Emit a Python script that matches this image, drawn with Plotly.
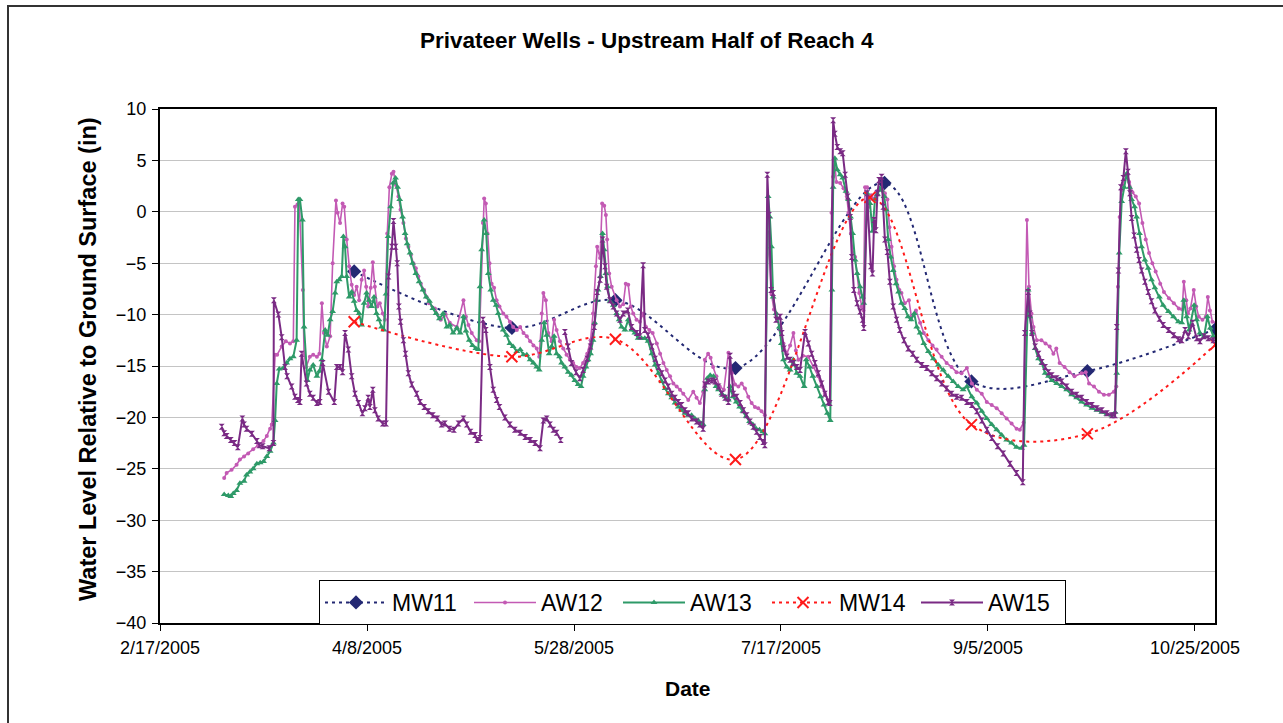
import numpy as np
import pandas as pd
import plotly.graph_objects as go

# ---------------- data (day = day of year 2005, Jan 1 = 1) ----------------
YEAR_START = "2005-01-01"

MW11_DAY = [94.9, 133.0, 158.0, 187.0, 223.0, 244.0, 272.0, 303.0]
MW11_VAL = [-5.8, -11.3, -8.6, -15.2, 2.8, -16.5, -15.5, -11.4]

MW14_DAY = [94.9, 133.0, 158.0, 187.0, 219.5, 244.0, 272.0, 303.0]
MW14_VAL = [-10.7, -14.1, -12.4, -24.1, 1.4, -20.7, -21.6, -12.9]

AW12 = [
    (63.5, -25.9), (64.1, -25.4), (65.3, -25.1), (66.5, -24.6), (67.3, -24.1), (68.3, -23.8),
    (69.3, -23.5), (70.5, -23.1), (71.7, -22.7), (73.0, -22.3), (73.8, -21.8), (74.6, -21.1),
    (75.0, -20.7), (75.8, -13.9), (76.3, -13.9), (77.4, -13.1), (78.4, -12.6), (79.4, -12.8),
    (80.2, -12.6), (80.6, 0.5), (81.2, 0.7), (81.6, 1.2), (82.5, -7.6), (82.8, -13.8),
    (83.3, -15.1), (84.2, -14.1), (85.0, -13.9), (85.9, -14.1), (86.5, -13.8), (87.1, -8.9),
    (87.6, -11.8), (88.3, -13.1), (89.1, -12.1), (89.7, -5.0), (90.5, 1.1), (90.9, -0.1),
    (91.5, -1.1), (92.1, 0.8), (92.5, 0.5), (93.1, -2.7), (93.7, -5.3), (94.3, -7.1),
    (94.9, -8.1), (95.5, -7.3), (96.1, -8.6), (96.7, -6.6), (97.3, -5.7), (97.8, -7.3),
    (98.3, -9.2), (98.9, -7.4), (99.4, -4.9), (99.9, -7.3), (100.5, -9.2), (101.1, -8.9),
    (101.8, -9.9), (102.3, -10.5), (102.9, -2.1), (103.4, 2.4), (104.0, 3.7), (104.4, 3.9),
    (105.0, 2.6), (105.6, 1.5), (106.1, 0.2), (106.8, -1.1), (107.4, -2.6), (108.0, -3.4),
    (108.6, -4.2), (109.2, -5.0), (109.8, -5.5), (110.4, -6.3), (111.0, -7.0), (111.8, -7.6),
    (112.4, -8.3), (113.0, -8.9), (114.4, -9.4), (115.8, -10.5), (117.0, -10.0), (118.0, -10.8),
    (119.7, -11.2), (121.3, -8.6), (121.9, -10.2), (122.5, -11.0), (123.3, -11.8), (124.5, -12.5),
    (125.1, -12.6), (126.0, -1.1), (126.3, 1.3), (126.7, 0.8), (127.1, -2.1), (127.6, -5.0),
    (128.1, -7.0), (128.7, -7.4), (129.3, -8.6), (130.0, -9.2), (130.9, -9.9), (131.7, -10.2),
    (132.5, -10.7), (133.3, -11.2), (134.2, -11.5), (135.0, -11.2), (135.8, -11.8), (136.6, -12.1),
    (137.4, -12.6), (138.2, -13.0), (139.0, -13.3), (139.6, -14.1), (140.2, -9.9), (140.6, -7.9),
    (141.2, -8.6), (141.8, -11.8), (142.6, -12.6), (143.2, -10.5), (143.8, -11.5), (144.6, -12.6),
    (145.4, -13.3), (146.2, -13.9), (147.0, -14.4), (147.8, -14.7), (148.6, -15.1), (149.4, -15.2),
    (150.2, -14.7), (151.2, -13.8), (152.0, -12.5), (152.6, -9.9), (153.3, -5.3), (153.6, -3.4),
    (154.3, -4.5), (154.8, 0.8), (155.3, 0.6), (155.7, -0.3), (156.0, -2.7), (156.5, -6.0),
    (157.1, -7.3), (158.3, -8.6), (159.1, -9.2), (159.9, -9.0), (160.5, -7.0), (161.1, -7.1),
    (161.7, -9.2), (162.3, -9.9), (163.1, -10.5), (163.9, -10.7), (164.7, -9.9), (165.4, -11.2),
    (166.2, -11.5), (167.0, -11.8), (168.0, -12.8), (168.8, -13.8), (169.6, -14.7), (170.4, -15.4),
    (171.2, -16.0), (172.0, -16.7), (172.8, -17.0), (173.6, -17.3), (174.4, -17.7), (175.6, -18.3),
    (176.8, -17.5), (177.6, -18.1), (178.4, -18.6), (179.2, -17.5), (179.6, -14.4), (180.4, -13.8),
    (181.0, -14.2), (181.6, -15.1), (182.4, -16.0), (183.2, -17.0), (184.2, -17.3), (185.3, -13.7),
    (186.1, -15.7), (186.9, -16.8), (187.7, -17.0), (188.5, -16.7), (189.3, -17.2), (190.1, -18.0),
    (190.9, -18.6), (191.7, -19.0), (192.5, -19.1), (193.3, -19.4), (194.1, -19.8), (194.9, -2.0),
    (195.7, -8.0), (196.3, -9.5), (196.9, -9.9), (197.8, -11.5), (198.6, -12.8), (199.4, -13.8),
    (200.2, -13.0), (201.0, -11.8), (201.6, -13.5), (202.2, -14.4), (203.3, -14.0), (204.6, -14.1),
    (205.8, -15.1), (207.0, -16.0), (207.8, -17.0), (208.6, -17.7), (209.4, -18.3), (209.8, -18.5),
    (210.2, -0.1), (210.6, 3.4), (210.9, 5.0), (211.4, 2.9), (212.3, 2.8), (213.1, 2.3),
    (213.9, 1.5), (214.3, -0.1), (214.9, -2.1), (215.4, -4.0), (215.9, -4.4), (216.4, -6.0),
    (216.9, -7.9), (217.5, -9.2), (217.9, -9.6), (218.3, 2.4), (218.8, 2.4), (219.3, 0.5),
    (219.8, 1.6), (220.3, 1.2), (221.1, 2.0), (221.9, 2.3), (222.5, 2.1), (223.1, 1.8),
    (223.7, 1.2), (224.2, -1.5), (224.7, -3.4), (225.3, -5.3), (225.9, -6.6), (226.6, -7.6),
    (227.1, -7.9), (227.9, -8.9), (228.9, -8.6), (229.5, -10.2), (230.6, -9.6), (231.6, -10.8),
    (232.5, -11.8), (233.6, -12.5), (234.6, -13.0), (235.6, -13.4), (236.8, -14.1), (238.0, -14.7),
    (239.2, -15.1), (240.4, -15.6), (241.6, -15.7), (242.9, -15.2), (244.1, -16.7), (245.3, -17.3),
    (246.5, -17.7), (247.7, -18.5), (248.9, -18.8), (250.1, -19.1), (251.3, -19.6), (252.5, -20.1),
    (253.7, -20.6), (254.9, -21.1), (255.7, -21.2), (256.6, -20.5), (257.4, -0.8), (257.9, -7.3),
    (258.5, -9.9), (259.0, -11.2), (259.8, -12.5), (260.9, -12.5), (261.9, -12.8), (262.9, -13.1),
    (263.8, -13.8), (264.5, -13.3), (265.3, -14.7), (266.5, -15.1), (267.7, -15.6), (268.9, -16.0),
    (270.6, -15.7), (271.6, -15.6), (272.4, -16.7), (273.6, -17.0), (274.8, -17.5), (276.0, -17.8),
    (277.2, -17.8), (278.4, -17.5), (279.0, -17.0), (279.4, -7.3), (279.8, -0.5), (280.3, 2.1),
    (280.9, 3.1), (281.6, 3.7), (282.1, 2.9), (282.9, 1.9), (283.7, 1.5), (284.5, 0.8),
    (285.3, -1.1), (286.1, -2.7), (286.9, -4.0), (287.7, -5.0), (288.5, -5.8), (289.6, -7.0),
    (290.5, -7.8), (291.7, -8.4), (292.9, -8.9), (294.1, -9.4), (294.9, -9.5), (295.3, -6.8),
    (295.9, -8.6), (296.3, -9.9), (296.9, -9.4), (297.7, -7.6), (298.3, -9.2), (298.9, -10.2),
    (299.8, -10.5), (300.6, -10.2), (301.1, -8.3), (301.6, -9.6), (302.2, -10.7), (303.4, -10.8),
    (304.6, -11.0),
]

AW13 = [
    (63.5, -27.5), (64.5, -27.6), (65.1, -27.7), (65.7, -27.4), (66.5, -27.1), (67.3, -26.4),
    (68.3, -26.2), (68.9, -25.6), (69.7, -25.3), (70.5, -25.0), (71.4, -24.5), (72.2, -24.4),
    (73.0, -24.3), (73.8, -23.8), (74.6, -23.3), (75.4, -22.5), (75.8, -20.3), (76.2, -16.7),
    (76.8, -15.3), (77.8, -15.2), (78.6, -14.7), (79.4, -14.3), (80.2, -14.1), (81.0, -12.5),
    (81.4, 1.2), (81.8, 1.2), (82.4, -0.8), (82.8, -11.2), (83.6, -16.4), (84.2, -15.4),
    (85.0, -14.9), (85.9, -16.0), (86.5, -15.5), (87.1, -14.4), (87.9, -11.5), (88.5, -12.0),
    (89.1, -10.5), (89.7, -9.7), (90.3, -7.9), (90.7, -6.8), (91.3, -6.6), (91.9, -6.3),
    (92.3, -2.4), (92.7, -3.4), (93.1, -6.3), (93.7, -8.3), (94.3, -7.8), (94.9, -8.7),
    (95.5, -9.6), (96.1, -9.9), (96.7, -11.0), (97.3, -8.9), (97.9, -7.9), (98.5, -8.6),
    (99.1, -9.2), (99.7, -8.3), (100.3, -9.9), (100.9, -10.5), (101.5, -11.2), (102.1, -11.5),
    (102.6, -8.0), (103.1, -2.4), (103.7, 0.5), (104.3, 2.8), (104.9, 3.3), (105.4, 2.4),
    (105.9, 1.2), (106.6, -0.5), (107.2, -2.1), (107.7, -3.1), (108.4, -4.0), (109.0, -5.0),
    (109.8, -6.0), (110.6, -6.8), (111.5, -7.6), (112.3, -8.3), (113.1, -8.7), (113.9, -9.4),
    (114.7, -9.9), (115.5, -10.4), (116.4, -9.9), (117.3, -11.2), (118.0, -11.0), (118.8, -11.8),
    (119.7, -11.3), (120.5, -11.8), (121.3, -10.2), (121.9, -11.6), (122.7, -12.5), (123.5, -13.0),
    (124.3, -13.3), (124.9, -13.4), (125.3, -7.3), (125.7, -3.7), (126.3, -0.8), (126.8, -2.1),
    (127.3, -6.0), (127.9, -7.6), (128.5, -8.6), (129.2, -9.1), (129.7, -9.9), (130.9, -11.5),
    (131.7, -12.0), (132.5, -12.8), (133.3, -13.1), (134.2, -13.6), (135.0, -13.4), (135.8, -13.9),
    (136.6, -13.9), (137.4, -14.4), (138.2, -14.7), (139.0, -15.1), (139.6, -15.4), (140.2, -12.5),
    (140.8, -10.8), (141.4, -12.0), (142.0, -13.8), (142.6, -13.1), (143.2, -12.1), (143.8, -13.8),
    (144.5, -14.1), (145.0, -14.7), (145.8, -15.1), (146.6, -15.6), (147.4, -15.9), (148.2, -16.4),
    (149.0, -16.8), (149.7, -17.0), (150.2, -16.0), (150.9, -15.1), (151.4, -14.4), (152.0, -13.8),
    (152.6, -12.5), (153.0, -10.8), (153.4, -8.6), (153.8, -7.6), (154.4, -6.3), (154.9, -2.1),
    (155.3, -3.7), (155.7, -6.0), (156.1, -7.3), (156.7, -8.7), (157.5, -9.1), (158.3, -9.9),
    (158.9, -10.5), (159.5, -11.2), (160.3, -11.5), (161.1, -10.5), (161.9, -11.5), (162.7, -11.8),
    (163.5, -12.3), (164.3, -12.3), (165.1, -12.3), (165.9, -12.6), (166.8, -13.8), (167.6, -14.9),
    (168.4, -15.7), (169.2, -16.5), (170.0, -17.2), (170.8, -17.7), (171.6, -18.1), (172.4, -18.6),
    (173.2, -19.0), (174.0, -19.3), (174.8, -19.6), (175.6, -19.8), (176.4, -19.8), (177.2, -20.1),
    (178.0, -20.3), (178.9, -20.6), (179.2, -20.7), (179.6, -17.3), (180.2, -16.2), (180.9, -15.9),
    (181.7, -16.0), (182.3, -17.0), (182.9, -17.3), (183.7, -17.7), (184.5, -18.0), (185.3, -18.3),
    (185.7, -17.0), (186.4, -18.0), (187.2, -18.5), (188.0, -19.0), (188.8, -19.4), (189.6, -19.9),
    (190.4, -20.4), (191.2, -20.7), (192.0, -21.1), (192.8, -21.2), (193.6, -21.4), (194.1, -21.6),
    (194.9, 1.5), (195.3, -0.5), (195.7, -3.4), (196.1, -8.3), (196.8, -9.9), (197.6, -11.2),
    (198.1, -12.8), (198.6, -14.4), (199.4, -15.1), (200.2, -15.4), (201.0, -14.4), (201.8, -15.7),
    (202.6, -16.0), (203.6, -17.0), (204.1, -14.4), (204.9, -15.1), (205.7, -16.0), (206.7, -17.0),
    (207.6, -18.0), (208.4, -18.8), (209.2, -19.6), (209.9, -20.3), (210.3, -7.6), (210.6, 2.4),
    (211.0, 5.2), (211.6, 4.1), (212.3, 3.6), (212.9, 3.3), (213.7, 2.0), (214.3, 1.2),
    (214.8, -0.5), (215.3, -2.1), (215.9, -4.7), (216.4, -6.0), (217.1, -7.3), (217.7, -8.3),
    (218.0, -8.9), (218.8, 1.8), (219.5, 0.8), (220.1, -1.9), (220.7, 1.2), (221.3, 1.7),
    (221.9, 2.3), (222.3, 2.1), (222.9, 1.5), (223.4, 0.2), (223.9, -2.7), (224.5, -4.4),
    (225.1, -5.7), (225.8, -7.0), (226.4, -7.8), (227.1, -8.9), (227.9, -9.4), (228.7, -10.2),
    (229.4, -10.5), (230.2, -9.9), (230.8, -11.2), (231.6, -11.8), (232.5, -12.8), (233.6, -13.6),
    (234.8, -14.3), (236.0, -14.9), (237.2, -15.4), (238.4, -16.0), (239.6, -16.5), (240.8, -17.0),
    (242.0, -17.3), (242.9, -17.0), (244.1, -18.0), (245.3, -18.6), (246.5, -19.4), (247.7, -20.1),
    (248.9, -20.7), (250.1, -21.2), (251.3, -21.7), (252.5, -22.2), (253.7, -22.5), (254.9, -22.9),
    (256.1, -23.0), (256.7, -22.7), (257.7, -7.6), (258.1, -10.2), (258.7, -11.8), (259.4, -13.3),
    (260.2, -14.3), (261.0, -14.7), (261.8, -15.7), (262.6, -16.0), (263.4, -16.4), (264.6, -16.7),
    (265.8, -17.0), (267.0, -17.3), (268.2, -17.8), (269.4, -18.1), (270.6, -18.5), (271.8, -18.8),
    (273.1, -19.1), (274.3, -19.3), (275.5, -19.5), (276.7, -19.7), (277.9, -19.8), (278.7, -19.5),
    (279.1, -15.7), (279.7, -4.0), (280.3, 1.0), (280.9, 2.4), (281.5, 3.7), (282.2, 2.4),
    (282.7, 1.2), (283.4, 0.5), (283.9, -0.5), (284.6, -2.1), (285.1, -3.4), (285.9, -4.7),
    (286.7, -5.5), (287.5, -6.6), (288.3, -7.4), (289.4, -8.3), (290.3, -9.1), (291.6, -9.7),
    (292.8, -10.2), (294.0, -10.7), (294.8, -10.8), (295.3, -8.6), (296.0, -10.2), (296.6, -11.5),
    (297.8, -9.1), (298.4, -10.5), (299.2, -11.8), (300.2, -12.1), (301.0, -10.2), (301.7, -11.3),
    (302.4, -12.1), (304.0, -12.5),
]

AW15 = [
    (62.9, -20.9), (63.5, -21.55), (64.1, -21.8), (65.1, -22.2), (66.0, -22.5), (66.8, -22.9),
    (67.9, -20.1), (68.3, -20.7), (68.9, -21.1), (70.2, -21.6), (71.4, -22.3), (72.0, -22.7),
    (72.8, -22.8), (74.4, -23.0), (75.4, -22.5), (75.5, -8.6), (76.6, -10.0), (77.4, -12.2),
    (78.2, -15.1), (78.7, -16.0), (79.8, -17.0), (80.6, -18.0), (81.3, -18.3), (81.8, -18.5),
    (82.2, -13.8), (83.4, -16.7), (84.2, -17.7), (85.0, -18.1), (85.9, -18.6), (86.6, -18.5),
    (87.3, -14.7), (88.7, -17.5), (90.1, -18.5), (90.7, -15.1), (91.5, -15.1), (92.1, -15.6),
    (92.7, -11.8), (93.5, -13.4), (94.3, -16.0), (95.1, -17.7), (95.9, -18.6), (96.9, -19.6),
    (97.5, -19.1), (98.3, -18.1), (98.7, -19.0), (99.4, -17.3), (99.9, -19.3), (100.7, -20.1),
    (101.8, -20.6), (102.6, -20.6), (103.2, -6.3), (104.0, -3.4), (104.4, -0.9), (104.9, -3.4),
    (105.3, -5.0), (105.7, -9.2), (106.1, -10.7), (106.8, -12.5), (107.3, -13.8), (108.0, -15.7),
    (108.8, -16.8), (110.0, -17.7), (110.8, -18.5), (111.8, -19.0), (112.8, -19.4), (113.9, -19.8),
    (115.0, -20.1), (116.0, -20.7), (116.8, -20.6), (117.9, -21.1), (119.0, -21.2), (120.1, -20.6),
    (121.3, -20.1), (122.1, -20.7), (123.0, -21.4), (124.1, -21.7), (124.6, -22.2), (125.3, -22.0),
    (126.0, -10.5), (126.7, -11.5), (127.7, -15.1), (128.5, -17.3), (129.3, -18.3), (130.0, -19.0),
    (131.3, -20.0), (132.5, -20.7), (133.7, -21.2), (135.0, -21.5), (136.2, -21.9), (137.4, -22.2),
    (138.6, -22.5), (139.8, -23.0), (140.6, -20.3), (141.4, -20.1), (142.2, -20.7), (143.0, -21.2),
    (143.8, -21.5), (144.8, -22.2), (145.3, None),
    (145.8, -11.7), (146.6, -13.1), (147.4, -14.7), (148.5, -15.6), (149.4, -16.2), (150.2, -15.4),
    (151.2, -14.3), (152.0, -13.1), (152.9, -11.2), (153.6, -7.8), (154.3, -6.6), (154.9, -2.7),
    (155.5, -5.3), (155.9, -7.3), (156.7, -8.6), (157.5, -9.2), (158.3, -9.9), (159.1, -10.5),
    (159.9, -9.9), (161.0, -9.6), (161.9, -11.2), (163.1, -11.8), (163.9, -12.1), (164.7, -5.2),
    (165.1, -11.5), (165.9, -12.0), (166.8, -13.1), (167.6, -14.3), (168.4, -15.1), (169.2, -15.7),
    (170.0, -16.4), (170.8, -17.0), (171.6, -17.7), (172.4, -18.1), (173.2, -18.5), (174.0, -18.8),
    (174.8, -19.3), (175.6, -19.6), (176.4, -20.1), (177.6, -20.4), (178.4, -20.7), (179.2, -21.1),
    (179.6, -16.8), (180.4, -16.5), (181.3, -16.4), (182.1, -16.5), (182.9, -17.0), (183.7, -17.7),
    (184.5, -18.1), (185.3, -18.5), (185.7, -14.0), (186.5, -17.7), (187.3, -18.0), (188.1, -18.6),
    (188.9, -19.3), (189.7, -19.8), (190.5, -20.4), (191.3, -20.9), (192.1, -21.4), (192.9, -21.9),
    (193.7, -22.4), (194.1, -22.7), (194.7, 3.6), (195.1, -0.3), (195.6, -7.6), (196.1, -7.9),
    (196.8, -10.5), (197.8, -10.2), (198.2, -11.8), (198.7, -13.3), (199.4, -14.1), (200.2, -14.4),
    (201.0, -14.7), (201.8, -15.1), (202.6, -15.4), (203.8, -11.7), (204.6, -12.8), (205.4, -13.8),
    (206.2, -14.7), (207.0, -15.7), (207.8, -16.7), (208.6, -17.7), (209.4, -18.5), (209.8, -18.6),
    (210.6, 8.9), (211.0, 7.6), (211.6, 6.3), (212.3, 5.9), (212.9, 5.7), (213.5, 3.6),
    (214.1, 1.5), (214.7, -0.5), (215.1, -4.4), (215.6, -7.6), (216.4, -8.9), (217.1, -9.7),
    (217.7, -10.5), (218.0, -11.3), (218.8, 1.8), (219.7, -5.3), (220.1, -6.0), (220.5, -0.8),
    (220.9, -1.8), (221.3, 1.8), (221.7, 3.1), (222.3, 3.4), (222.7, 0.5), (223.1, -2.7),
    (223.7, -3.9), (224.3, -6.8), (225.1, -9.2), (225.9, -10.5), (226.7, -11.5), (227.7, -12.5),
    (228.7, -13.3), (229.8, -13.8), (230.8, -14.4), (232.0, -14.9), (233.2, -15.2), (234.4, -15.7),
    (235.6, -16.2), (236.8, -16.7), (238.0, -17.2), (239.2, -17.7), (240.4, -18.0), (241.6, -18.1),
    (242.9, -18.5), (244.1, -18.8), (245.3, -19.4), (246.5, -20.3), (247.7, -21.2), (248.9, -22.0),
    (250.3, -22.8), (251.7, -23.5), (253.3, -24.5), (254.9, -25.4), (256.4, -26.3), (256.9, -11.8),
    (257.7, -7.8), (258.1, -9.9), (258.6, -11.8), (259.4, -13.1), (260.2, -13.8), (261.0, -14.6),
    (261.8, -15.1), (262.6, -15.6), (263.4, -15.9), (264.6, -16.2), (265.8, -16.5), (267.0, -17.0),
    (268.2, -17.5), (269.4, -17.8), (270.6, -18.1), (271.8, -18.5), (273.1, -18.8), (274.3, -19.1),
    (275.5, -19.3), (276.7, -19.6), (277.9, -19.8), (278.7, -19.8), (279.1, -11.2), (279.5, -5.7),
    (280.1, 2.4), (280.7, 3.3), (281.3, 5.9), (281.8, 3.9), (282.3, 1.8), (282.7, -0.6),
    (283.3, -2.3), (283.9, -3.7), (284.5, -4.7), (285.1, -5.7), (285.9, -6.8), (286.7, -7.8),
    (287.5, -8.7), (288.3, -9.6), (289.4, -10.4), (290.3, -11.0), (291.6, -11.5), (292.8, -12.0),
    (294.0, -12.4), (294.8, -12.5), (295.6, -11.5), (296.4, -12.1), (297.4, -10.8), (298.4, -12.3),
    (299.2, -12.6), (300.2, -12.1), (301.2, -12.3), (302.4, -12.5), (304.0, -12.5),
]

X_TICK_DATES = ["2005-02-17", "2005-04-08", "2005-05-28", "2005-07-17", "2005-09-05", "2005-10-25"]
X_TICK_LABELS = ["2/17/2005", "4/8/2005", "5/28/2005", "7/17/2005", "9/5/2005", "10/25/2005"]
X_RANGE = ["2005-02-17", "2005-10-29 20:00"]
Y_RANGE = [-40, 10]

TITLE = "Privateer Wells - Upstream Half of Reach 4"
X_TITLE = "Date"
Y_TITLE = "Water Level Relative to Ground Surface (in)"


def to_dates(days):
    return pd.Timestamp(YEAR_START) + pd.to_timedelta(np.asarray(days, dtype=float) - 1, unit="D")


def unzip(pairs):
    d = [p[0] for p in pairs]
    v = [p[1] for p in pairs]
    return to_dates(d), v


NAVY = "#232873"
PINK = "#C35AB4"
GREEN = "#2E9A68"
RED = "#FF1A1A"
PURPLE = "#7A2A84"
FONT = "Liberation Sans, Arial, sans-serif"

fig = go.Figure()

fig.add_trace(go.Scatter(
    x=to_dates(MW11_DAY), y=MW11_VAL, name="MW11", mode="lines+markers",
    line=dict(color=NAVY, width=2, dash="3px,4px", shape="spline", smoothing=1.0),
    marker=dict(symbol="diamond", size=11, color=NAVY)))

x, y = unzip(AW12)
fig.add_trace(go.Scatter(
    x=x, y=y, name="AW12", mode="lines+markers",
    line=dict(color=PINK, width=1.6),
    marker=dict(symbol="circle", size=4, color=PINK)))

x, y = unzip(AW13)
fig.add_trace(go.Scatter(
    x=x, y=y, name="AW13", mode="lines+markers",
    line=dict(color=GREEN, width=2),
    marker=dict(symbol="triangle-up", size=6, color=GREEN)))

fig.add_trace(go.Scatter(
    x=to_dates(MW14_DAY), y=MW14_VAL, name="MW14", mode="lines+markers",
    line=dict(color=RED, width=2, dash="3px,4px", shape="spline", smoothing=1.0),
    marker=dict(symbol="x-thin-open", size=11, color=RED, line=dict(color=RED, width=2))))

x, y = unzip(AW15)
fig.add_trace(go.Scatter(
    x=x, y=y, name="AW15", mode="lines+markers", connectgaps=False,
    line=dict(color=PURPLE, width=2),
    marker=dict(symbol="hourglass", size=6, color=PURPLE)))

L, R, T, B = 160, 68, 109, 100
W, H = 1283, 723
PW, PH = W - L - R, H - T - B


def px_x(p):
    return (p - L) / PW


def px_y(p):
    return (H - B - p) / PH


fig.update_layout(
    width=W, height=H,
    margin=dict(l=L, r=R, t=T, b=B, autoexpand=False),
    paper_bgcolor="white", plot_bgcolor="white",
    font=dict(family=FONT, color="black"),
    showlegend=True,
    legend=dict(
        orientation="h", x=px_x(319), y=px_y(580), xanchor="left", yanchor="top",
        bgcolor="white", bordercolor="black", borderwidth=1,
        font=dict(size=23, family=FONT, color="black"),
        itemwidth=62, entrywidth=72, entrywidthmode="pixels",
        tracegroupgap=0,
    ),
    xaxis=dict(
        type="date", range=X_RANGE,
        tickvals=X_TICK_DATES, ticktext=X_TICK_LABELS,
        tickfont=dict(size=18, family=FONT, color="black"),
        ticks="outside", ticklen=6, tickwidth=1, tickcolor="black",
        showgrid=False, zeroline=False,
        showline=True, linecolor="black", linewidth=2, mirror=True,
        ticklabelstandoff=1,
    ),
    yaxis=dict(
        range=Y_RANGE, dtick=5, tick0=0,
        tickfont=dict(size=18, family=FONT, color="black"),
        ticks="outside", ticklen=6, tickwidth=1, tickcolor="black",
        showgrid=True, gridcolor="#C4C4C4", gridwidth=1, zeroline=False,
        showline=True, linecolor="black", linewidth=2, mirror=True,
        ticklabelstandoff=2,
    ),
    annotations=[
        dict(text="<b>" + TITLE + "</b>", xref="paper", yref="paper",
             x=px_x(647), y=px_y(40), showarrow=False,
             xanchor="center", yanchor="middle",
             font=dict(size=22.5, family=FONT, color="black")),
        dict(text="<b>" + X_TITLE + "</b>", xref="paper", yref="paper",
             x=px_x(688), y=px_y(688), showarrow=False,
             xanchor="center", yanchor="middle",
             font=dict(size=21, family=FONT, color="black")),
        dict(text="<b>" + Y_TITLE + "</b>", xref="paper", yref="paper",
             x=px_x(88), y=px_y(359), showarrow=False, textangle=-90,
             xanchor="center", yanchor="middle",
             font=dict(size=23.5, family=FONT, color="black")),
    ],
    shapes=[
        dict(type="rect", xref="paper", yref="paper",
             x0=px_x(8), y0=px_y(740), x1=px_x(1295), y1=px_y(6),
             line=dict(color="#333333", width=2), fillcolor="rgba(0,0,0,0)", layer="below"),
    ],
)

fig.write_html(
    "out.html",
    config={"displayModeBar": False},
    post_script="document.body.style.margin='0px';document.body.style.padding='0px';",
)
